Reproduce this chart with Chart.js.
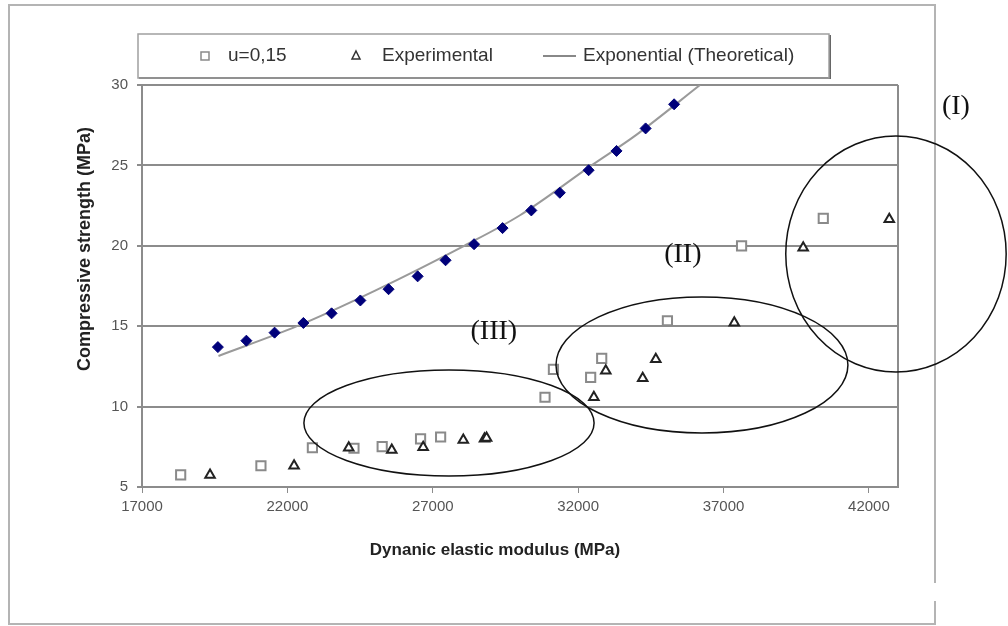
<!DOCTYPE html>
<html lang="en">
<head>
  <meta charset="UTF-8">
  <title>Compressive strength vs dynamic elastic modulus</title>
  <script src="https://cdn.jsdelivr.net/npm/chart.js"></script>
  <style>
    body { margin: 0; background: #fff; }
    canvas { display: block; }
  </style>
</head>
<body>
  <canvas id="strengthChart" width="1008" height="626"></canvas>

<script>
  // values
  const theoryX = [19610, 20590, 21560, 22550, 23520, 24510, 25480, 26480, 27440, 28420, 29400, 30390, 31370, 32360, 33320, 34320, 35300]
  const theoryY = [13.7, 14.1, 14.6, 15.2, 15.8, 16.6, 17.3, 18.1, 19.1, 20.1, 21.1, 22.2, 23.3, 24.7, 25.9, 27.3, 28.8]

  const trendX = [19630, 22330, 25000, 28080, 30000, 32460, 34000, 36190]
  const trendY = [13.15, 15.0, 17.2, 20.0, 21.9, 25.0, 26.9, 30.0]

  const squareX = [18330, 21090, 22860, 24290, 25260, 26580, 27270, 30860, 31150, 32430, 32810, 35070, 37620, 40430]
  const squareY = [5.75, 6.32, 7.44, 7.41, 7.51, 7.99, 8.11, 10.58, 12.32, 11.82, 13.0, 15.34, 20.0, 21.71]

  const triX = [19340, 22230, 24110, 25590, 26670, 28050, 28780, 28850, 32540, 32950, 34220, 34670, 37370, 39740, 42700]
  const triY = [5.75, 6.32, 7.44, 7.30, 7.47, 7.92, 8.0, 8.05, 10.58, 12.23, 11.76, 12.94, 15.22, 19.88, 21.65]

  const xTicks = [17000, 22000, 27000, 32000, 37000, 42000]
  const yTicks = [5, 10, 15, 20, 25, 30]

  // zone marks (I), (II), (III) in data units: centre x, centre y, half width, half height
  const zoneNames = ['(I)', '(II)', '(III)']
  const zoneEllipses = [[42930, 19.49, 3790, 7.34], [36258, 12.59, 5020, 4.23], [27558, 8.98, 4990, 3.30]]
  const zoneLabels = [[44990, 28.63], [35600, 19.43], [29100, 14.64]]

  function toPoints(xs, ys) {
    return xs.map((x, i) => ({ x: x, y: ys[i] }))
  }

  const gridGray = '#8c8c8c'

  const extras = {
    id: 'extras',
    beforeDraw(chart) {
      const c = chart.ctx
      c.save()
      c.fillStyle = '#fff'
      c.fillRect(0, 0, chart.width, chart.height)
      c.restore()
    },
    afterDraw(chart) {
      const c = chart.ctx
      const xs = chart.scales.x
      const ys = chart.scales.y
      const area = chart.chartArea
      c.save()

      // plot area right edge
      c.strokeStyle = gridGray
      c.lineWidth = 2
      c.beginPath()
      c.moveTo(area.right, area.top)
      c.lineTo(area.right, area.bottom)
      c.stroke()

      // outer frame of the figure
      c.strokeStyle = '#b4b4b4'
      c.lineWidth = 2
      c.strokeRect(9, 5, 926, 619)
      c.fillStyle = '#fff'
      c.fillRect(930, 583, 10, 18)

      // axis titles
      c.fillStyle = '#222'
      c.font = 'bold 17px "Liberation Sans", Arial, sans-serif'
      c.textAlign = 'center'
      c.textBaseline = 'middle'
      c.fillText('Dynanic elastic modulus (MPa)', 495, 550)
      c.save()
      c.translate(85, 249)
      c.rotate(-Math.PI / 2)
      c.font = 'bold 18px "Liberation Sans", Arial, sans-serif'
      c.fillText('Compressive strength (MPa)', 0, 0)
      c.restore()

      // legend
      c.fillStyle = '#fff'
      c.fillRect(138, 34, 691, 44)
      c.strokeStyle = '#666'
      c.lineWidth = 2
      c.beginPath()
      c.moveTo(139, 78)
      c.lineTo(830, 78)
      c.lineTo(830, 35)
      c.stroke()
      c.strokeStyle = '#a0a0a0'
      c.lineWidth = 1.5
      c.strokeRect(138, 34, 691, 44)

      c.strokeStyle = '#8a8a8a'
      c.lineWidth = 1.5
      c.strokeRect(201, 52, 8, 8)
      c.strokeStyle = '#333'
      c.beginPath()
      c.moveTo(356, 51)
      c.lineTo(360, 59)
      c.lineTo(352, 59)
      c.closePath()
      c.stroke()
      c.strokeStyle = '#888'
      c.lineWidth = 2
      c.beginPath()
      c.moveTo(543, 56)
      c.lineTo(576, 56)
      c.stroke()

      c.fillStyle = '#333'
      c.font = '19px "Liberation Sans", Arial, sans-serif'
      c.textAlign = 'left'
      c.fillText('u=0,15', 228, 56)
      c.fillText('Experimental', 382, 56)
      c.fillText('Exponential (Theoretical)', 583, 56)

      // zone ellipses and their names
      c.strokeStyle = '#111'
      c.lineWidth = 1.5
      zoneEllipses.forEach(e => {
        const cx = xs.getPixelForValue(e[0])
        const cy = ys.getPixelForValue(e[1])
        const rx = xs.getPixelForValue(e[0] + e[2]) - cx
        const ry = cy - ys.getPixelForValue(e[1] + e[3])
        c.beginPath()
        c.ellipse(cx, cy, rx, ry, 0, 0, Math.PI * 2)
        c.stroke()
      })
      c.fillStyle = '#111'
      c.font = '28px "Liberation Serif", "Times New Roman", serif'
      c.textAlign = 'center'
      zoneLabels.forEach((p, i) => {
        c.fillText(zoneNames[i], xs.getPixelForValue(p[0]), ys.getPixelForValue(p[1]))
      })
      c.restore()
    }
  }

  const tickFont = { family: '"Liberation Sans", Arial, sans-serif', size: 15 }

  new Chart(document.getElementById('strengthChart'), {
    type: 'scatter',
    data: {
      datasets: [
        {
          label: 'Theoretical points',
          data: toPoints(theoryX, theoryY),
          pointStyle: 'rectRot',
          pointRadius: 5.5,
          backgroundColor: '#00007a',
          borderColor: '#00007a',
          borderWidth: 1,
          order: 0
        },
        {
          label: 'Exponential (Theoretical)',
          type: 'line',
          data: toPoints(trendX, trendY),
          borderColor: '#9a9a9a',
          borderWidth: 2,
          pointRadius: 0,
          cubicInterpolationMode: 'monotone',
          fill: false,
          order: 3
        },
        {
          label: 'u=0,15',
          data: toPoints(squareX, squareY),
          pointStyle: 'rect',
          pointRadius: 6.5,
          backgroundColor: '#fff',
          borderColor: '#8a8a8a',
          borderWidth: 2,
          order: 2
        },
        {
          label: 'Experimental',
          data: toPoints(triX, triY),
          pointStyle: 'triangle',
          pointRadius: 5.5,
          backgroundColor: '#fff',
          borderColor: '#222',
          borderWidth: 2,
          order: 1
        }
      ]
    },
    options: {
      responsive: false,
      animation: false,
      layout: { padding: { top: 85, right: 110, left: 0, bottom: 0 } },
      plugins: {
        legend: { display: false },
        tooltip: { enabled: false }
      },
      scales: {
        x: {
          type: 'linear',
          min: 17000,
          max: 43000,
          afterBuildTicks: scale => { scale.ticks = xTicks.map(v => ({ value: v })) },
          afterFit: scale => { scale.height = 139 },
          ticks: { color: '#555', font: tickFont, padding: 5, maxRotation: 0, callback: v => String(v) },
          grid: { drawOnChartArea: false, color: gridGray, tickLength: 6, lineWidth: 1 },
          border: { color: gridGray, width: 2 }
        },
        y: {
          min: 5,
          max: 30,
          afterBuildTicks: scale => { scale.ticks = yTicks.map(v => ({ value: v })) },
          afterFit: scale => { scale.width = 142 },
          ticks: { color: '#555', font: tickFont, padding: 9, callback: v => String(v) },
          grid: { color: gridGray, lineWidth: 2, tickLength: 5 },
          border: { color: gridGray, width: 2 }
        }
      }
    },
    plugins: [extras]
  })
</script>
</body>
</html>
